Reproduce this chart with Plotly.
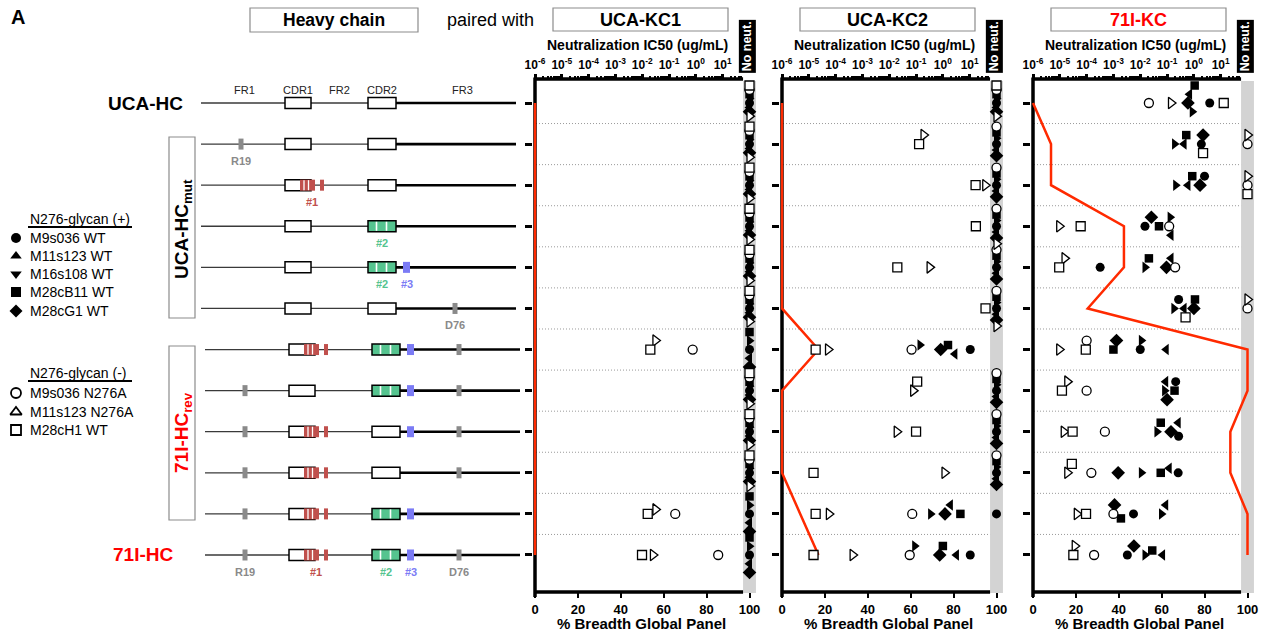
import math
import plotly.graph_objects as go

W, H = 1266, 636
FONT = "Liberation Sans, Arial, sans-serif"

NN = None  # no neutralization detected

# ---------------- data ----------------
HEAVY_CHAINS = ["UCA-HC", "UCA-HCmut R19", "UCA-HCmut #1", "UCA-HCmut #2", "UCA-HCmut #2#3",
                "UCA-HCmut D76", "71I-HCrev R19", "71I-HCrev #1", "71I-HCrev #2",
                "71I-HCrev #3", "71I-HCrev D76", "71I-HC"]
ANTIGENS = ["M9s036 WT", "M11s123 WT", "M16s108 WT", "M28cB11 WT", "M28cG1 WT",
            "M9s036 N276A", "M11s123 N276A", "M28cH1 WT"]
LIGHT_CHAINS = ["UCA-KC1", "UCA-KC2", "71I-KC"]
IC50_TICK_VALUES = [1e-6, 1e-5, 1e-4, 1e-3, 1e-2, 1e-1, 1e0, 1e1]
IC50_TICK_TEXT = ["10<sup>-6</sup>", "10<sup>-5</sup>", "10<sup>-4</sup>", "10<sup>-3</sup>",
                  "10<sup>-2</sup>", "10<sup>-1</sup>", "10<sup>0</sup>", "10<sup>1</sup>"]
BREADTH_TICKS = [0, 20, 40, 60, 80, 100]

# IC50 (ug/mL) per heavy chain (rows, top to bottom)
KC1_M9S036_WT = [NN] * 12
KC1_M11S123_WT = [NN] * 12
KC1_M16S108_WT = [NN] * 12
KC1_M28CB11_WT = [NN] * 12
KC1_M28CG1_WT = [NN] * 12
KC1_M9S036_N276A = [NN, NN, NN, NN, NN, NN, 0.76, NN, NN, NN, 0.17, 6.8]
KC1_M11S123_N276A = [NN, NN, NN, NN, NN, NN, 0.031, NN, NN, NN, 0.031, 0.025]
KC1_M28CH1_WT = [NN, NN, NN, NN, NN, NN, 0.020, NN, NN, NN, 0.016, 0.0098]
KC1_BREADTH = [0, 0, 0, 0, 0, 0, 0, 0, 0, 0, 0, 0]

KC2_M9S036_WT = [NN, NN, NN, NN, NN, NN, 10.5, NN, NN, NN, NN, 10.5]
KC2_M11S123_WT = [NN, NN, NN, NN, NN, NN, 0.14, NN, NN, NN, 0.35, 0.089]
KC2_M16S108_WT = [NN, NN, NN, NN, NN, NN, 2.8, NN, NN, NN, 1.9, 3.2]
KC2_M28CB11_WT = [NN, NN, NN, NN, NN, NN, 1.55, NN, NN, NN, 4.5, 1.0]
KC2_M28CG1_WT = [NN, NN, NN, NN, NN, NN, 0.83, NN, NN, NN, 1.2, 0.76]
KC2_M9S036_N276A = [NN, NN, NN, NN, NN, NN, 0.068, NN, NN, NN, 0.072, 0.058]
KC2_M11S123_N276A = [NN, 0.19, 38, NN, 0.32, NN, 5.2e-5, 0.078, 0.019, 1.15, 5.6e-5, 4.3e-4]
KC2_M28CH1_WT = [NN, 0.13, 16.6, 17, 0.020, 39, 1.8e-5, 0.11, 0.10, 1.5e-5, 1.8e-5, 1.5e-5]
KC2_BREADTH = [0, 0, 0, 0, 0, 0, 17, 0, 0, 0, 8.5, 17]

KC3_M9S036_WT = [3.9, 1.9, 2.5, 0.015, 3.2e-4, 0.27, 0.010, 0.21, 0.27, 0.26, 0.0056, 0.0033]
KC3_M11S123_WT = [0.87, 0.19, 0.21, 0.13, 0.015, 0.18, 0.011, 0.081, 0.042, 0.011, 0.062, 0.015]
KC3_M16S108_WT = [0.69, 0.43, 0.60, 0.14, 0.14, 0.43, 0.093, 0.089, 0.26, 0.12, 0.089, 0.068]
KC3_M28CB11_WT = [1.07, 0.52, 0.87, 0.050, 0.021, 1.1, 0.0010, 0.19, 0.058, 0.058, 0.0019, 0.028]
KC3_M28CG1_WT = [0.60, 2.2, 1.7, 0.026, 0.095, 1.0, 0.0013, 0.10, 0.14, 0.0015, 0.0011, 0.0058]
KC3_M9S036_N276A = [0.021, NN, NN, 0.12, 0.20, NN, 1.0e-4, 1.0e-4, 4.8e-4, 1.5e-4, 0.0010, 1.9e-4]
KC3_M11S123_N276A = [0.14, NN, NN, 9.5e-6, 1.5e-5, NN, 9.5e-6, 1.9e-5, 1.4e-5, 1.9e-5, 4.3e-5, 3.6e-5]
KC3_M28CH1_WT = [13, 2.2, NN, 6.0e-5, 9.5e-6, 0.49, 9.3e-5, 1.2e-5, 3.0e-5, 2.8e-5, 9.5e-5, 3.2e-5]
KC3_BREADTH = [0, 8.4, 8.4, 42.4, 42.4, 25.5, 100, 100, 92, 92, 100, 100]

# heavy-chain schematic: presence of each mutation per row
HAS_R19 = [0, 1, 0, 0, 0, 0, 0, 1, 1, 1, 1, 1]
HAS_M1 = [0, 0, 1, 0, 0, 0, 1, 0, 1, 1, 1, 1]
HAS_M2 = [0, 0, 0, 1, 1, 0, 1, 1, 0, 0, 1, 1]
HAS_M3 = [0, 0, 0, 0, 1, 0, 1, 1, 1, 0, 1, 1]
HAS_D76 = [0, 0, 0, 0, 0, 1, 1, 1, 1, 1, 0, 1]
REGION_LABELS = ["FR1", "CDR1", "FR2", "CDR2", "FR3"]
MUT_LABEL_ROWS = {2: ["R19"], 3: ["#1"], 4: ["#2"], 5: ["#2", "#3"], 6: ["D76"],
                  12: ["R19", "#1", "#2", "#3", "D76"]}

PANELS = [
    ("UCA-KC1", [KC1_M9S036_WT, KC1_M11S123_WT, KC1_M16S108_WT, KC1_M28CB11_WT, KC1_M28CG1_WT,
                 KC1_M9S036_N276A, KC1_M11S123_N276A, KC1_M28CH1_WT], KC1_BREADTH, "black"),
    ("UCA-KC2", [KC2_M9S036_WT, KC2_M11S123_WT, KC2_M16S108_WT, KC2_M28CB11_WT, KC2_M28CG1_WT,
                 KC2_M9S036_N276A, KC2_M11S123_N276A, KC2_M28CH1_WT], KC2_BREADTH, "black"),
    ("71I-KC", [KC3_M9S036_WT, KC3_M11S123_WT, KC3_M16S108_WT, KC3_M28CB11_WT, KC3_M28CG1_WT,
                KC3_M9S036_N276A, KC3_M11S123_N276A, KC3_M28CH1_WT], KC3_BREADTH, "#ff0000"),
]

# ---------------- geometry / style ----------------
PANEL_X0 = [535, 782, 1033]      # pixel of 0 % breadth
K = 2.145                        # px per % breadth
PCT_MIN, PCT_MAX = -0.8, 103.0
LOG0, DEC_PCT = -6.0, 12.5       # 10^-6 at 0 %, 12.5 % per decade
NN_VALUE = 1e2                   # "No neut." column position
ROW1_PX, ROW_STEP = 103.0, 41.09
TOP_PX, BOT_PX = 79.0, 592.0
R_TOP = 1 - (ROW1_PX - TOP_PX) / ROW_STEP
R_BOT = 1 + (BOT_PX - ROW1_PX) / ROW_STEP
RED = "#ff2a00"

MARKERS = [
    dict(symbol="circle", size=9, color="black"),
    dict(symbol="triangle-right", size=10, color="black"),
    dict(symbol="triangle-left", size=10, color="black"),
    dict(symbol="square", size=8.5, color="black"),
    dict(symbol="diamond", size=10.5, color="black"),
    dict(symbol="circle", size=9, color="white", line=dict(color="black", width=1.3)),
    dict(symbol="triangle-right", size=10, color="white", line=dict(color="black", width=1.3)),
    dict(symbol="square", size=9, color="white", line=dict(color="black", width=1.3)),
]
LEGEND_SYMBOLS = ["circle", "triangle-up", "triangle-down", "square", "diamond",
                  "circle", "triangle-up", "square"]


def PX(x):
    return x / W


def PY(y):
    return 1 - y / H


def row_px(r):
    return ROW1_PX + (r - 1) * ROW_STEP


shapes, annotations = [], []


def ann(x, y, text, size, color="black", bold=False, xanchor="center", angle=0, **kw):
    annotations.append(dict(x=PX(x), y=PY(y), xref="paper", yref="paper", text=text,
                            showarrow=False, xanchor=xanchor, yanchor="middle", textangle=angle,
                            font=dict(family=FONT, size=size, color=color,
                                      weight="bold" if bold else "normal"), **kw))


def line(x0, y0, x1, y1, color="black", width=1, dash="solid", layer="above"):
    shapes.append(dict(type="line", xref="paper", yref="paper", x0=PX(x0), y0=PY(y0),
                       x1=PX(x1), y1=PY(y1), line=dict(color=color, width=width, dash=dash),
                       layer=layer))


def rect(x0, y0, x1, y1, fill="white", lcolor="black", lwidth=1, layer="above"):
    shapes.append(dict(type="rect", xref="paper", yref="paper", x0=PX(x0), y0=PY(y0),
                       x1=PX(x1), y1=PY(y1), fillcolor=fill,
                       line=dict(color=lcolor, width=lwidth), layer=layer))


def swarm(xs, d=8.5, step=4.5, limit=17.5):
    n = len(xs)
    order = sorted(range(n), key=lambda i: xs[i])
    offs = [0.0] * n
    placed = []
    cands = [0.0]
    for m in range(1, 30):
        cands += [-m * step, m * step]
    for i in order:
        for c in cands:
            if all((xs[i] - xp) ** 2 + (c - yp) ** 2 >= d * d for xp, yp in placed):
                break
        offs[i] = c
        placed.append((xs[i], c))
    groups, cur = [], [order[0]]
    for a, b in zip(order, order[1:]):
        if xs[b] - xs[a] < d:
            cur.append(b)
        else:
            groups.append(cur)
            cur = [b]
    groups.append(cur)
    for g in groups:
        m = max(abs(offs[i]) for i in g)
        if m > limit:
            for i in g:
                offs[i] *= limit / m
    return offs


fig = go.Figure()
layout = dict(width=W, height=H, margin=dict(l=0, r=0, t=0, b=0, autoexpand=False),
              paper_bgcolor="white", plot_bgcolor="rgba(0,0,0,0)", showlegend=False)

ROWS = list(range(1, 13))
for p, (lc_name, series, breadth, tcolor) in enumerate(PANELS):
    X0 = PANEL_X0[p]
    ib, it, iy = 2 * p + 1, 2 * p + 2, p + 1
    xb = "x" if ib == 1 else f"x{ib}"
    xt = f"x{it}"
    ya = "y" if iy == 1 else f"y{iy}"
    kb = "xaxis" if ib == 1 else f"xaxis{ib}"
    kt = f"xaxis{it}"
    ky = "yaxis" if iy == 1 else f"yaxis{iy}"
    dom = [PX(X0 + PCT_MIN * K), PX(X0 + PCT_MAX * K)]
    layout[kb] = dict(domain=dom, range=[PCT_MIN, PCT_MAX], anchor=ya, tickmode="array",
                      tickvals=BREADTH_TICKS, ticks="outside", ticklen=5, tickwidth=2,
                      tickcolor="black", showline=False, showgrid=False, zeroline=False,
                      tickfont=dict(family=FONT, size=13, color="black", weight="bold"))
    minor_vals = [k * 10.0 ** e for e in range(-6, 2) for k in range(2, 10) if k * 10.0 ** e < 60]
    layout[kt] = dict(type="log", overlaying=xb, side="top", anchor=ya,
                      range=[LOG0 + PCT_MIN / DEC_PCT, LOG0 + PCT_MAX / DEC_PCT],
                      tickmode="array", tickvals=IC50_TICK_VALUES, ticktext=IC50_TICK_TEXT,
                      ticks="outside", ticklen=4.5, tickwidth=2.5, tickcolor="black",
                      minor=dict(tickmode="array", tickvals=minor_vals, ticks="outside",
                                 ticklen=2.5, tickwidth=1.5, tickcolor="black"),
                      showline=False, showgrid=False, zeroline=False,
                      tickfont=dict(family=FONT, size=12, color="black", weight="bold"))
    layout[ky] = dict(domain=[PY(BOT_PX), PY(TOP_PX)], range=[R_BOT, R_TOP], anchor=xb,
                      tickmode="array", tickvals=ROWS, ticks="outside", ticklen=7, tickwidth=3,
                      tickcolor="black", showticklabels=False, showgrid=False,
                      zeroline=False, showline=False)

    # frame: no-neut band, dotted row separators, axis lines
    rect(X0 + 97 * K, 81, X0 + 103 * K, BOT_PX + 1, fill="#d3d3d3", lcolor="rgba(0,0,0,0)",
         lwidth=0, layer="below")
    for r in ROWS[:-1]:
        yy = row_px(r + 0.5)
        line(X0 + 1, yy, X0 + 97 * K, yy, color="#9a9a9a", width=1, dash="1px,2px",
             layer="below")
    line(X0, TOP_PX - 1.5, X0, BOT_PX + 5, width=3.5, layer="below")
    line(X0, TOP_PX, X0 + 97 * K, TOP_PX, width=3.5, layer="below")
    line(X0, BOT_PX, X0 + 97 * K, BOT_PX, width=3.5, layer="below")

    # breadth line
    fig.add_trace(go.Scatter(x=breadth, y=ROWS, xaxis=xb, yaxis=ya, mode="lines",
                             line=dict(color=RED, width=2.5), hoverinfo="skip"))

    # IC50 points with beeswarm spreading per row
    xs_val = [[(v if v is not None else NN_VALUE) for v in s] for s in series]
    ys = [[0.0] * 12 for _ in series]
    for ri in range(12):
        xpx = [(math.log10(xs_val[a][ri]) - LOG0) * DEC_PCT * K for a in range(len(series))]
        offs = swarm(xpx)
        for a in range(len(series)):
            ys[a][ri] = ROWS[ri] + offs[a] / ROW_STEP
    for a, name in enumerate(ANTIGENS):
        mk = dict(MARKERS[a])
        if "line" not in mk:
            mk["line"] = dict(width=0)
        fig.add_trace(go.Scatter(x=xs_val[a], y=ys[a], xaxis=xt, yaxis=ya, mode="markers",
                                 marker=mk, name=name, cliponaxis=False, hoverinfo="skip"))

    # titles
    rect(X0 + 18, 8, X0 + 193, 31, lcolor="#8c8c8c", lwidth=1.2)
    ann(X0 + 105.5, 20, lc_name, 18, color=tcolor, bold=True)
    ann(X0 + 102, 45, "Neutralization IC50 (ug/mL)", 14, bold=True)
    ann(X0 + 106, 623, "% Breadth Global Panel", 15, bold=True)
    annotations.append(dict(x=99, y=PY(46), xref=xb, yref="paper", text="No neut.",
                            showarrow=False, textangle=-90, bgcolor="black", borderpad=1,
                            xanchor="center", yanchor="middle",
                            font=dict(family=FONT, size=12.5, color="white", weight="bold")))

# ---------------- heavy-chain schematic ----------------
GENE_X = (201, 516)
CDR1_X = (285, 311)
CDR2_X = (368, 396)
REGION_LABEL_X = [244, 298, 339, 382, 462]
R19_X, D76_X = 241, 455
M1_BLOCK, M1_STRIPES, M1_BAR = (300, 315), [304.0, 308.5], (320, 324)
M2_STRIPES = [376.5, 386.5]
M3_X = (403, 410)
MUT_COL = {"R19": "#8a8a8a", "#1": "#c0504d", "#2": "#55c48f", "#3": "#7b7bf5", "D76": "#8a8a8a"}
MUT_LABEL_X = {"R19": R19_X, "#1": 312, "#2": 382, "#3": 406.5, "D76": D76_X}
HB = 5.5  # half box height (px)

for r in ROWS:
    yc = row_px(r)
    s = 0 if r <= 6 else 4
    line(GENE_X[0] + s, yc, CDR2_X[0] + s, yc, color="#3a3a3a", width=1.3)
    line(CDR2_X[1] + s, yc, GENE_X[1] + s, yc, color="black", width=2.6)
    rect(CDR1_X[0] + s, yc - HB, CDR1_X[1] + s, yc + HB, lwidth=1.5)
    g = HAS_M2[r - 1]
    rect(CDR2_X[0] + s, yc - HB, CDR2_X[1] + s, yc + HB, fill=MUT_COL["#2"] if g else "white",
         lwidth=1.5)
    if g:
        for xs_ in M2_STRIPES:
            line(xs_ + s, yc - HB + 1, xs_ + s, yc + HB - 1, color="white", width=1.6)
    if HAS_M1[r - 1]:
        rect(M1_BLOCK[0] + s, yc - HB, M1_BLOCK[1] + s, yc + HB, fill=MUT_COL["#1"],
             lcolor="rgba(0,0,0,0)", lwidth=0)
        for xs_ in M1_STRIPES:
            line(xs_ + s, yc - HB + 0.5, xs_ + s, yc + HB - 0.5, color="white", width=1.3)
        rect(M1_BAR[0] + s, yc - HB, M1_BAR[1] + s, yc + HB, fill=MUT_COL["#1"],
             lcolor="rgba(0,0,0,0)", lwidth=0)
    if HAS_M3[r - 1]:
        rect(M3_X[0] + s, yc - HB, M3_X[1] + s, yc + HB, fill=MUT_COL["#3"],
             lcolor="rgba(0,0,0,0)", lwidth=0)
    if HAS_R19[r - 1]:
        rect(R19_X - 2.5 + s, yc - HB, R19_X + 2.5 + s, yc + HB, fill=MUT_COL["R19"],
             lcolor="rgba(0,0,0,0)", lwidth=0)
    if HAS_D76[r - 1]:
        rect(D76_X - 2.5 + s, yc - HB, D76_X + 2.5 + s, yc + HB, fill=MUT_COL["D76"],
             lcolor="rgba(0,0,0,0)", lwidth=0)
    for lab in MUT_LABEL_ROWS.get(r, []):
        ann(MUT_LABEL_X[lab] + s, yc + 17, lab, 11, color=MUT_COL[lab], bold=True)

for lab, xx in zip(REGION_LABELS, REGION_LABEL_X):
    ann(xx, row_px(1) - 13, lab, 11, color="#222222")

ann(145, row_px(1), "UCA-HC", 19, bold=True)
ann(143, row_px(12), "71I-HC", 19, color="#ff0000", bold=True)
rect(169, 137, 195, 318, lcolor="#8c8c8c", lwidth=1.2)
ann(183, 229, "UCA-HC<sub>mut</sub>", 19, bold=True, angle=-90)
rect(169, 346, 195, 520, lcolor="#8c8c8c", lwidth=1.2)
ann(183, 433, "71I-HC<sub>rev</sub>", 19, color="#ff0000", bold=True, angle=-90)

ann(18, 17, "A", 20, bold=True)
rect(250, 8, 418, 32, lcolor="#8c8c8c", lwidth=1.2)
ann(334, 20, "Heavy chain", 17.5, bold=True)
ann(490, 20, "paired with", 18)

# ---------------- legend ----------------
LEG_TITLE_Y = [219, 373]
LEG_ITEM_Y = [238, 256, 274, 292, 311, 393, 412, 430]
ann(28, LEG_TITLE_Y[0], "N276-glycan (+)", 14, xanchor="left")
ann(28, LEG_TITLE_Y[1], "N276-glycan (-)", 14, xanchor="left")
for ty in LEG_TITLE_Y:
    line(28, ty + 8, 132, ty + 8, width=2)
for a, name in enumerate(ANTIGENS):
    ann(28, LEG_ITEM_Y[a], name, 14, xanchor="left")
    mk = dict(MARKERS[a])
    mk["symbol"] = LEGEND_SYMBOLS[a]
    mk["size"] = 10
    if "line" not in mk:
        mk["line"] = dict(width=0)
    else:
        mk["line"] = dict(color="black", width=1.8)
    fig.add_trace(go.Scatter(x=[16], y=[LEG_ITEM_Y[a]], xaxis="x7", yaxis="y4", mode="markers",
                             marker=mk, hoverinfo="skip"))
layout["xaxis7"] = dict(domain=[0, 1], range=[0, W], visible=False, anchor="y4")
layout["yaxis4"] = dict(domain=[0, 1], range=[H, 0], visible=False, anchor="x7")

layout["shapes"] = shapes
layout["annotations"] = annotations
fig.update_layout(**layout)
fig.write_html("out.html", config={"displayModeBar": False},
               post_script="document.body.style.margin='0';document.body.style.padding='0';"
                           "document.documentElement.style.overflow='hidden';")
